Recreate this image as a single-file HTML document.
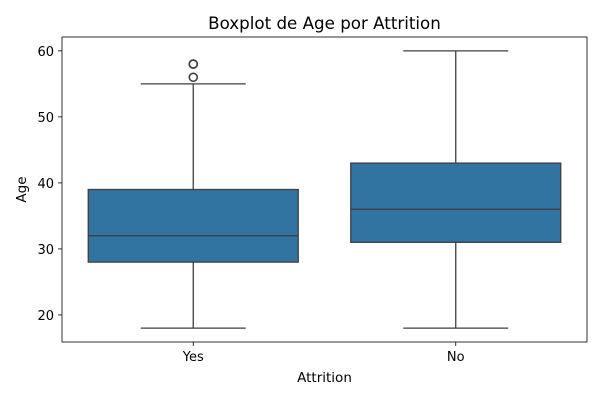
<!DOCTYPE html>
<html><head><meta charset="utf-8"><style>body{margin:0;background:#fff}svg{font-family:"DejaVu Sans","Liberation Sans",sans-serif}</style></head>
<body>
<svg id="c" width="600" height="400"></svg>
<script>
const categories = ["Yes","No"];
const q1 = [28,31];
const medians = [32,36];
const q3 = [39,43];
const whiskLow = [18,18];
const whiskHigh = [55,60];
const outliers = [[56,58,58],[]];
const yTicks = [20,30,40,50,60];

const L=62,R=587,T=37,B=342;
const yMin=15.9,yMax=62.1;
const y=v=>B-(v-yMin)/(yMax-yMin)*(B-T);
const band=(R-L)/categories.length;
const xc=i=>L+band*(i+0.5);
const svg=document.getElementById('c');
const NS='http://www.w3.org/2000/svg';
function mk(tag,attrs,parent){const e=document.createElementNS(NS,tag);for(const k in attrs)e.setAttribute(k,attrs[k]);(parent||svg).appendChild(e);return e;}
const stroke='#3f3f3f';
categories.forEach((c,i)=>{
  const g=mk('g',{});
  
  
  const cx=xc(i),hw=band*0.4,cw=band*0.2;
  mk('line',{x1:cx,x2:cx,y1:y(whiskLow[i]),y2:y(q1[i]),stroke:stroke,'stroke-width':1.3},g);
  mk('line',{x1:cx,x2:cx,y1:y(q3[i]),y2:y(whiskHigh[i]),stroke:stroke,'stroke-width':1.3},g);
  mk('line',{x1:cx-cw,x2:cx+cw,y1:y(whiskLow[i]),y2:y(whiskLow[i]),stroke:stroke,'stroke-width':1.3},g);
  mk('line',{x1:cx-cw,x2:cx+cw,y1:y(whiskHigh[i]),y2:y(whiskHigh[i]),stroke:stroke,'stroke-width':1.3},g);
  mk('rect',{x:cx-hw,y:y(q3[i]),width:2*hw,height:y(q1[i])-y(q3[i]),fill:'#3274a1',stroke:stroke,'stroke-width':1.3},g);
  mk('line',{x1:cx-hw,x2:cx+hw,y1:y(medians[i]),y2:y(medians[i]),stroke:stroke,'stroke-width':1.3},g);
  outliers[i].forEach(v=>{const o=mk('circle',{cx:cx,cy:y(v),r:4,fill:'none',stroke:stroke,'stroke-width':1.6},g);
    
    });
  const t=mk('text',{x:cx,y:B+19,'text-anchor':'middle','font-size':13,fill:'#000'});
  t.textContent=c;
  
  
  mk('line',{x1:cx,x2:cx,y1:B,y2:B+4,stroke:'#000','stroke-width':0.8});
});
yTicks.forEach(v=>{
  mk('line',{x1:L-4,x2:L,y1:y(v),y2:y(v),stroke:'#000','stroke-width':0.8});
  const t=mk('text',{x:L-8,y:y(v)+5,'text-anchor':'end','font-size':13,fill:'#000'});
  t.textContent=v;
  
  
});
const fr=mk('rect',{x:L,y:T,width:R-L,height:B-T,fill:'none',stroke:'#000','stroke-width':0.8});


const ti=mk('text',{x:(L+R)/2,y:T-8,'text-anchor':'middle','font-size':16.7,fill:'#000'});ti.textContent='Boxplot de Age por Attrition';

const xt=mk('text',{x:(L+R)/2,y:382,'text-anchor':'middle','font-size':13.5,fill:'#000'});xt.textContent='Attrition';

const yt=mk('text',{x:0,y:0,'text-anchor':'middle','font-size':13.5,fill:'#000',transform:'translate(26,'+((T+B)/2)+') rotate(-90)'});yt.textContent='Age';

</script>
</body></html>
